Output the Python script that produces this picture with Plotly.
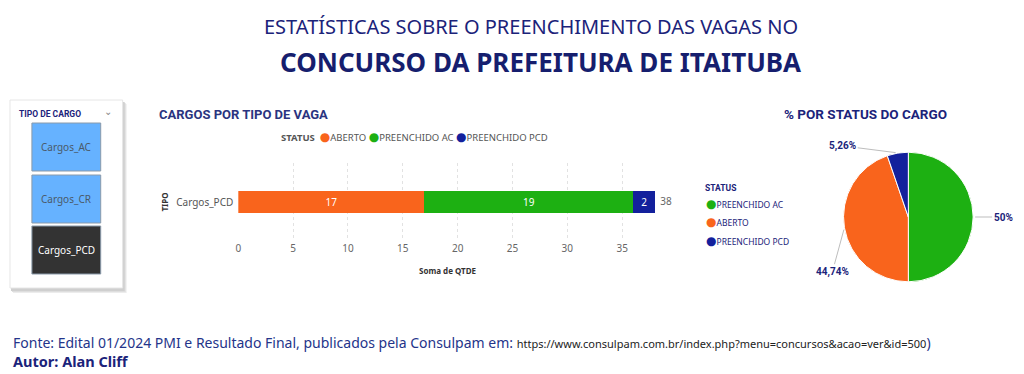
import math
import plotly.graph_objects as go

# ---------------- data ----------------
categoria = ["Cargos_PCD"]
status = ["ABERTO", "PREENCHIDO AC", "PREENCHIDO PCD"]
valores_aberto = [17]
valores_ac = [19]
valores_pcd = [2]

pie_labels = ["PREENCHIDO AC", "ABERTO", "PREENCHIDO PCD"]
pie_values = [19, 17, 2]

slicer_items = ["Cargos_AC", "Cargos_CR", "Cargos_PCD"]
x_ticks = [0, 5, 10, 15, 20, 25, 30, 35]

colors = {"ABERTO": "#F9641C", "PREENCHIDO AC": "#1DB012", "PREENCHIDO PCD": "#13209C"}
NAVY = "#1B237A"
W, H = 1024, 374


def px(x):
    return x / W


def py(y):
    return 1 - y / H


def ann(text, x, y, size, color, family="Noto Sans", xanchor="center", yanchor="middle", **kw):
    d = dict(text=text, x=px(x), y=py(y), xref="paper", yref="paper", showarrow=False,
             xanchor=xanchor, yanchor=yanchor, font=dict(size=size, color=color, family=family))
    d.update(kw)
    return d


fig = go.Figure()

series = [valores_aberto, valores_ac, valores_pcd]
for name, vals in zip(status, series):
    fig.add_trace(go.Bar(
        y=categoria, x=vals, orientation="h", name=name,
        marker=dict(color=colors[name], line=dict(width=0)),
        width=0.28, text=[str(v) for v in vals], textposition="inside",
        insidetextanchor="middle",
        textfont=dict(color="white", size=10, family="Noto Sans"),
        showlegend=False, hoverinfo="x+name",
    ))

totals = [a + b + c for a, b, c in zip(*series)]
fig.add_trace(go.Scatter(
    y=categoria, x=totals, mode="text", text=["  " + str(t) for t in totals],
    textposition="middle right", textfont=dict(size=10, color="#666", family="Noto Sans"),
    showlegend=False, hoverinfo="skip", cliponaxis=False,
))

# pie
PIE_CX, PIE_CY, PIE_R = 908, 217, 65
fig.add_trace(go.Pie(
    labels=pie_labels, values=pie_values, sort=False, direction="clockwise",
    rotation=0, textinfo="none",
    marker=dict(colors=[colors[l] for l in pie_labels], line=dict(color="white", width=1)),
    domain=dict(x=[px(PIE_CX - PIE_R), px(PIE_CX + PIE_R)],
                y=[py(PIE_CY + PIE_R), py(PIE_CY - PIE_R)]),
    showlegend=False, hoverinfo="label+percent",
))

annotations = []

# pie labels with leader lines, anchored on each slice's mid angle
tot = sum(pie_values)
label_offsets = [(30, 0), (-12, 44), (-55, -7)]
cum = 0
for v, (ax, ay) in zip(pie_values, label_offsets):
    s = f"{v / tot * 100:.2f}".rstrip("0").rstrip(".").replace(".", ",") + "%"
    mid = (cum + v / 2) / tot * 2 * math.pi
    cum += v
    ex = PIE_CX + PIE_R * math.sin(mid)
    ey = PIE_CY - PIE_R * math.cos(mid)
    annotations.append(dict(text=f"<b>{s}</b>", x=px(ex), y=py(ey), xref="paper", yref="paper",
                            showarrow=True, ax=ax, ay=ay, arrowhead=0, arrowwidth=1,
                            arrowcolor="#bdbdbd", standoff=2,
                            font=dict(size=10, color=NAVY, family="Roboto")))

DOT = "<span style='color:{c};font-size:12px;font-family:DejaVu Sans'>●</span>"

# bar chart legend (horizontal, round markers)
leg = "<b>STATUS</b>  " + " ".join(DOT.format(c=colors[s]) + s for s in status)
annotations.append(ann(leg, 277, 137, 9.5, "#555", xanchor="left"))

# pie legend (vertical)
annotations.append(ann("<b>STATUS</b>", 702, 188, 8.5, NAVY, family="Roboto", xanchor="left"))
for l, yy in zip(pie_labels, [204, 222, 241]):
    annotations.append(ann(DOT.format(c=colors[l]) + l, 703, yy, 8.5, NAVY, xanchor="left"))

shapes = []
# slicer panel shadow + box
for i, c in enumerate(["#ececec", "#dedede", "#cfcfcf"]):
    off = 3 - i
    shapes.append(dict(type="rect", xref="paper", yref="paper",
                       x0=px(7 + off), x1=px(121 + off), y0=py(290 + off), y1=py(101 + off),
                       line=dict(width=0), fillcolor=c, layer="below"))
shapes.append(dict(type="rect", xref="paper", yref="paper",
                   x0=px(7), x1=px(120), y0=py(288), y1=py(100),
                   line=dict(color="#e6e6e6", width=1), fillcolor="white", layer="below"))
btn_tops = [123, 175, 226]
btn_fill = ["#66B2FF", "#66B2FF", "#333333"]
btn_text = ["#4a5a6a", "#4a5a6a", "#ffffff"]
for item, top, fc, tc in zip(slicer_items, btn_tops, btn_fill, btn_text):
    shapes.append(dict(type="rect", xref="paper", yref="paper",
                       x0=px(29), x1=px(98), y0=py(top + 48), y1=py(top),
                       line=dict(color="#8a9aaa", width=1), fillcolor=fc))
    annotations.append(ann(item, 63.5, top + 24, 10, tc))
annotations.append(ann("<b>TIPO DE CARGO</b>", 14, 114, 8.5, NAVY, family="Roboto", xanchor="left"))
annotations.append(ann("⌄", 105, 111, 10, "#888"))

# titles and texts
annotations += [
    ann("ESTATÍSTICAS SOBRE O PREENCHIMENTO DAS VAGAS NO", 530, 27, 20, NAVY),
    ann("<b>CONCURSO DA PREFEITURA DE ITAITUBA</b>", 539, 62, 26, "#161E6E"),
    ann("<b>CARGOS POR TIPO DE VAGA</b>", 154, 114, 13, "#2A3480", family="Roboto", xanchor="left"),
    ann("<b>% POR STATUS DO CARGO</b>", 865, 114, 13.5, NAVY, family="Roboto"),
    ann("<b>Soma de QTDE</b>", 446, 270, 8, "#333"),
    ann("Fonte: Edital 01/2024 PMI e Resultado Final, publicados pela Consulpam em: "
        "<span style='font-size:11px;color:#222'>https://www.consulpam.com.br/index.php?menu=concursos&acao=ver&id=500</span>)",
        8, 342, 14, "#24348A", xanchor="left"),
    ann("<b>Autor: Alan Cliff</b>", 8, 361, 14.5, NAVY, xanchor="left"),
]

fig.update_layout(
    width=W, height=H, margin=dict(l=0, r=0, t=0, b=0),
    paper_bgcolor="white", plot_bgcolor="white",
    barmode="stack", bargap=0, showlegend=False,
    shapes=shapes, annotations=annotations,
    xaxis=dict(domain=[px(236), px(654)], range=[0, 38], tickvals=x_ticks,
               showgrid=True, gridcolor="#e2e2e2", griddash="dot", zeroline=False,
               showline=False, ticks="", tickfont=dict(size=10, color="#666", family="Noto Sans"),
               fixedrange=True),
    yaxis=dict(domain=[py(241), py(163)], showgrid=False, zeroline=False, showline=False,
               ticks="", ticklabelstandoff=4,
               tickfont=dict(size=10, color="#555", family="Noto Sans"),
               title=dict(text="<b>TIPO</b>", font=dict(size=8, color="#333", family="Noto Sans"),
                          standoff=6),
               fixedrange=True),
)

fig.write_html("out.html", config={"displayModeBar": False},
               post_script="document.body.style.margin='0';document.body.style.overflow='hidden';")
